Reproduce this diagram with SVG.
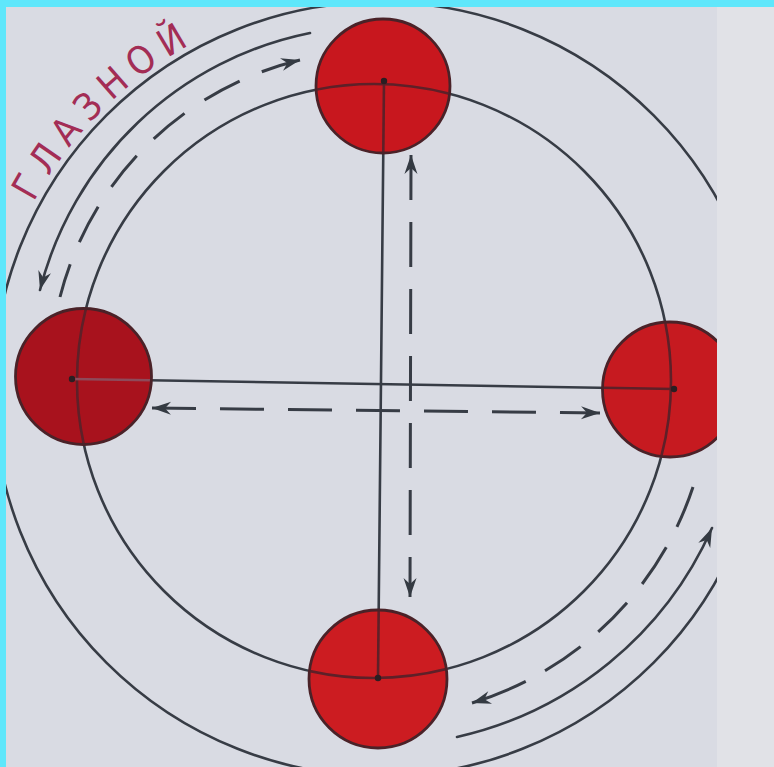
<svg xmlns="http://www.w3.org/2000/svg" xmlns:xlink="http://www.w3.org/1999/xlink" width="774" height="767" viewBox="0 0 774 767">
  <style>
    .ln { fill: none; stroke: #373c45; stroke-width: 2.6; stroke-linecap: round; }
    .dash { fill: none; stroke: #373c45; stroke-width: 3; }
    .inner { fill: none; stroke: #5e2028; stroke-width: 2.6; }
    .outline { fill: none; stroke: #4a2228; stroke-width: 2.8; }
    .dot { fill: #2a1e22; }
    .label { font-family: "DejaVu Sans Condensed", "DejaVu Sans", "Liberation Sans", sans-serif; font-stretch: condensed; font-size: 38px; fill: #a32d55; }
  </style>
  <defs>
    <marker id="ah" viewBox="-21 -8 23 16" refX="0" refY="0" markerWidth="23" markerHeight="16" markerUnits="userSpaceOnUse" orient="auto-start-reverse">
      <path d="M0,0 L-19,-6.5 L-13,0 L-19,6.5 Z" fill="#343a42"/>
    </marker>
    <circle id="ring" cx="374" cy="381" r="297"/>
    <line id="vline" x1="384" y1="81" x2="378" y2="678"/>
    <line id="hline" x1="72" y1="379" x2="674" y2="389"/>
    <clipPath id="cTop"><circle cx="383" cy="86" r="66"/></clipPath>
    <clipPath id="cLeft"><circle cx="83.5" cy="376.5" r="67"/></clipPath>
    <clipPath id="cRight"><circle cx="670" cy="389.5" r="66.5"/></clipPath>
    <clipPath id="cBottom"><circle cx="378" cy="679" r="68"/></clipPath>
    <path id="textArc" d="M 10.7 253.2 A 393 393 0 0 1 345.7 -2.5"/>
  </defs>

  <rect x="0" y="0" width="774" height="767" fill="#d9dbe3"/>

  <g id="connectors">
    <circle cx="380" cy="389" r="387" class="ln"/>
    <use href="#ring" class="ln"/>
    <use href="#vline" class="ln"/>
    <use href="#hline" class="ln"/>
    <path d="M 310 33 A 350 350 0 0 0 40 290" class="ln" marker-end="url(#ah)"/>
    <path d="M 457 737 A 367 367 0 0 0 712 528" class="ln" marker-end="url(#ah)"/>
    <path d="M 300 60 A 327 327 0 0 0 60 297" class="dash" stroke-dasharray="40 24" marker-start="url(#ah)"/>
    <path d="M 472 703 A 336 336 0 0 0 693 487" class="dash" stroke-dasharray="58 22 43 23 41 24 44 23 60" marker-start="url(#ah)"/>
    <path d="M 411 155 L 410 597" class="dash" stroke-dasharray="45 22" marker-start="url(#ah)" marker-end="url(#ah)"/>
    <path d="M 152 408 L 600 413" class="dash" stroke-dasharray="44 24" marker-start="url(#ah)" marker-end="url(#ah)"/>
  </g>

  <g id="node-top">
    <circle cx="383" cy="86" r="67" fill="#c8171e"/>
    <g clip-path="url(#cTop)">
      <use href="#ring" class="inner"/>
      <use href="#vline" class="inner"/>
    </g>
    <circle cx="383" cy="86" r="67" class="outline"/>
    <circle cx="384" cy="81" r="3.2" class="dot"/>
  </g>

  <g id="node-left">
    <circle cx="83.5" cy="376.5" r="68" fill="#a8121d"/>
    <g clip-path="url(#cLeft)">
      <use href="#ring" class="inner"/>
      <use href="#hline" class="inner" style="stroke:#8e4a5a"/>
    </g>
    <circle cx="83.5" cy="376.5" r="68" class="outline"/>
    <circle cx="72" cy="379" r="3.2" class="dot"/>
  </g>

  <g id="node-right">
    <circle cx="670" cy="389.5" r="67.5" fill="#c61a20"/>
    <g clip-path="url(#cRight)">
      <use href="#ring" class="inner"/>
      <use href="#hline" class="inner"/>
    </g>
    <circle cx="670" cy="389.5" r="67.5" class="outline"/>
    <circle cx="674" cy="389" r="3.2" class="dot"/>
  </g>

  <g id="node-bottom">
    <circle cx="378" cy="679" r="69" fill="#cc1c21"/>
    <g clip-path="url(#cBottom)">
      <use href="#ring" class="inner"/>
      <use href="#vline" class="inner"/>
    </g>
    <circle cx="378" cy="679" r="69" class="outline"/>
    <circle cx="378" cy="678" r="3.2" class="dot"/>
  </g>

  <g id="label">
    <text class="label"><textPath href="#textArc" startOffset="56" textLength="224" lengthAdjust="spacing">ГЛАЗНОЙ</textPath></text>
  </g>

  <rect x="717" y="0" width="57" height="767" fill="#e1e2e7"/>
  <rect x="0" y="0" width="774" height="7" fill="#5fe7fb"/>
  <rect x="0" y="0" width="6" height="767" fill="#5fe7fb"/>
</svg>
